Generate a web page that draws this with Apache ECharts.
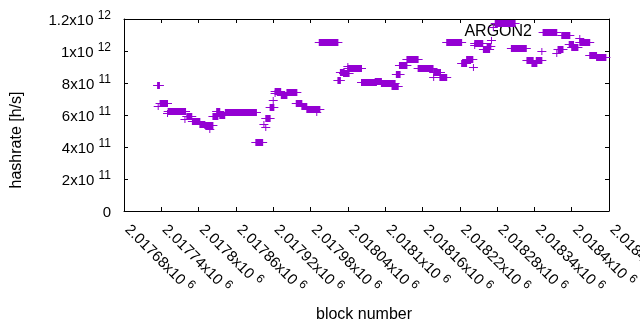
<!DOCTYPE html>
<html>
<head>
<meta charset="utf-8">
<script src="https://cdn.jsdelivr.net/npm/echarts@6/dist/echarts.min.js"></script>
<style>
  html, body { margin: 0; padding: 0; background: #fff; }
  #chart { width: 640px; height: 330px; }
</style>
</head>
<body>
<div id="chart"></div>
<script>
// runs of blocks that share one hashrate value: [first block, last block]
const runStart = [
  2017734, 2017735, 2017738, 2017750, 2017751, 2017778, 2017781, 2017790, 2017802, 2017810,
  2017818, 2017823, 2017829, 2017834, 2017843, 2017892, 2017905, 2017908, 2017908, 2017915,
  2017920, 2017923, 2017923, 2017933, 2017942, 2017957, 2017966, 2017974, 2017990, 2017994,
  2018024, 2018028, 2018033, 2018040, 2018040, 2018062, 2018084, 2018094, 2018111, 2018118,
  2018123, 2018135, 2018153, 2018178, 2018178, 2018188, 2018199, 2018223, 2018231, 2018242,
  2018244, 2018244, 2018258, 2018264, 2018271, 2018274, 2018277, 2018303, 2018328, 2018336,
  2018343, 2018352, 2018354, 2018376, 2018378, 2018384, 2018396, 2018400, 2018413, 2018413,
  2018429, 2018440
];
const runEnd = [
  2017737, 2017735, 2017750, 2017750, 2017779, 2017778, 2017789, 2017802, 2017810, 2017823,
  2017818, 2017831, 2017834, 2017842, 2017893, 2017903, 2017905, 2017908, 2017915, 2017921,
  2017920, 2017923, 2017932, 2017942, 2017958, 2017966, 2017974, 2017995, 2017990, 2018024,
  2018028, 2018034, 2018042, 2018040, 2018062, 2018086, 2018094, 2018116, 2018121, 2018124,
  2018135, 2018153, 2018177, 2018189, 2018178, 2018199, 2018223, 2018231, 2018241, 2018242,
  2018257, 2018244, 2018268, 2018270, 2018271, 2018274, 2018309, 2018327, 2018338, 2018344,
  2018352, 2018352, 2018376, 2018376, 2018386, 2018397, 2018403, 2018410, 2018413, 2018429,
  2018440, 2018455
];
const hashrate = [
  7.86e11, 6.55e11, 6.73e11, 6.10e11, 6.23e11, 5.73e11, 5.92e11, 5.60e11, 5.44e11, 5.36e11,
  5.12e11, 5.92e11, 6.28e11, 6.00e11, 6.16e11, 4.33e11, 5.42e11, 5.23e11, 5.79e11, 6.50e11,
  6.94e11, 7.35e11, 7.47e11, 7.28e11, 7.46e11, 6.73e11, 6.56e11, 6.36e11, 6.20e11, 1.058e12,
  8.20e11, 8.71e11, 8.60e11, 9.06e11, 8.94e11, 8.06e11, 8.14e11, 7.98e11, 7.80e11, 8.56e11,
  9.125e11, 9.53e11, 8.92e11, 8.71e11, 8.40e11, 8.35e11, 1.058e12, 9.23e11, 9.53e11, 9.00e11,
  1.05e12, 1.04e12, 1.0125e12, 1.03e12, 1.07e12, 1.15e12, 1.172e12, 1.016e12, 9.42e11, 9.23e11,
  9.42e11, 9.97e11, 1.12e12, 9.85e11, 1.014e12, 1.103e12, 1.044e12, 1.022e12, 1.08e12, 1.056e12,
  9.78e11, 9.64e11
];

const xMin = 2017680, xMax = 2018460, xStep = 60;
const yMin = 0, yMax = 1.2e12, yStep = 2e11;
const seriesName = 'ARGON2';
const color = '#9400d3';
const font = '"Liberation Sans", Arial, sans-serif';

const runs = runStart.map((s, i) => [s, runEnd[i], hashrate[i]]);

function sciLabel(v) {
  if (v === 0) return '{base|0}';
  const e = Math.floor(Math.log10(v) + 1e-9);
  const m = parseFloat((v / Math.pow(10, e)).toFixed(5));
  return '{base|' + m + 'x10 }{sup|' + e + '}';
}

const rich = {
  base: { fontSize: 15, lineHeight: 18, verticalAlign: 'bottom', color: '#000', fontFamily: font },
  sup: { fontSize: 12, lineHeight: 12, verticalAlign: 'top', color: '#000', fontFamily: font }
};

const frame = {
  axisLine: { show: true, onZero: false, lineStyle: { color: '#000', width: 1 } },
  axisTick: { show: true, inside: true, length: 4, lineStyle: { color: '#000' } },
  splitLine: { show: false }
};

const chart = echarts.init(document.getElementById('chart'), null, { renderer: 'canvas' });

chart.setOption({
  animation: false,
  backgroundColor: '#fff',
  grid: { left: 124, right: 31, top: 19, bottom: 119, containLabel: false, outerBoundsMode: 'none' },
  xAxis: [
    Object.assign({
      type: 'value', min: xMin, max: xMax, interval: xStep, position: 'bottom',
      axisLabel: {
        rotate: -45, margin: 11, padding: [0, 0, 0, 6],
        formatter: sciLabel, rich: rich, fontFamily: font, hideOverlap: false
      }
    }, frame),
    Object.assign({
      type: 'value', min: xMin, max: xMax, interval: xStep, position: 'top',
      axisLabel: { show: false }
    }, frame)
  ],
  yAxis: [
    Object.assign({
      type: 'value', min: yMin, max: yMax, interval: yStep, position: 'left',
      axisLabel: { margin: 13, formatter: sciLabel, rich: rich, fontFamily: font }
    }, frame),
    Object.assign({
      type: 'value', min: yMin, max: yMax, interval: yStep, position: 'right',
      axisLabel: { show: false }
    }, frame)
  ],
  graphic: [
    {
      type: 'text', left: 316, top: 307,
      style: { text: 'block number', font: '16px ' + font, fill: '#000' }
    },
    {
      type: 'text', x: 17, y: 140, rotation: Math.PI / 2,
      style: { text: 'hashrate [h/s]', font: '16px ' + font, fill: '#000', align: 'center', verticalAlign: 'middle' }
    },
    {
      type: 'text', x: 532, y: 32,
      style: { text: seriesName, font: '16px ' + font, fill: '#000', align: 'right', verticalAlign: 'middle' }
    }
  ],
  series: [{
    name: seriesName,
    type: 'custom',
    data: runs,
    dimensions: ['start', 'end', 'hashrate'],
    encode: { x: [0, 1], y: 2 },
    clip: false,
    renderItem(params, api) {
      const p0 = api.coord([api.value(0), api.value(2)]);
      const p1 = api.coord([api.value(1), api.value(2)]);
      const y = Math.round(p0[1]) + 0.5;
      return {
        type: 'group',
        children: [
          {
            type: 'rect',
            shape: { x: p0[0] - 0.5, y: y - 3.5, width: p1[0] - p0[0] + 1, height: 7 },
            style: { fill: color }
          },
          {
            type: 'line',
            shape: { x1: p0[0] - 4.5, y1: y, x2: p1[0] + 4.5, y2: y },
            style: { stroke: color, lineWidth: 1 }
          }
        ]
      };
    }
  }]
});
</script>
</body>
</html>
